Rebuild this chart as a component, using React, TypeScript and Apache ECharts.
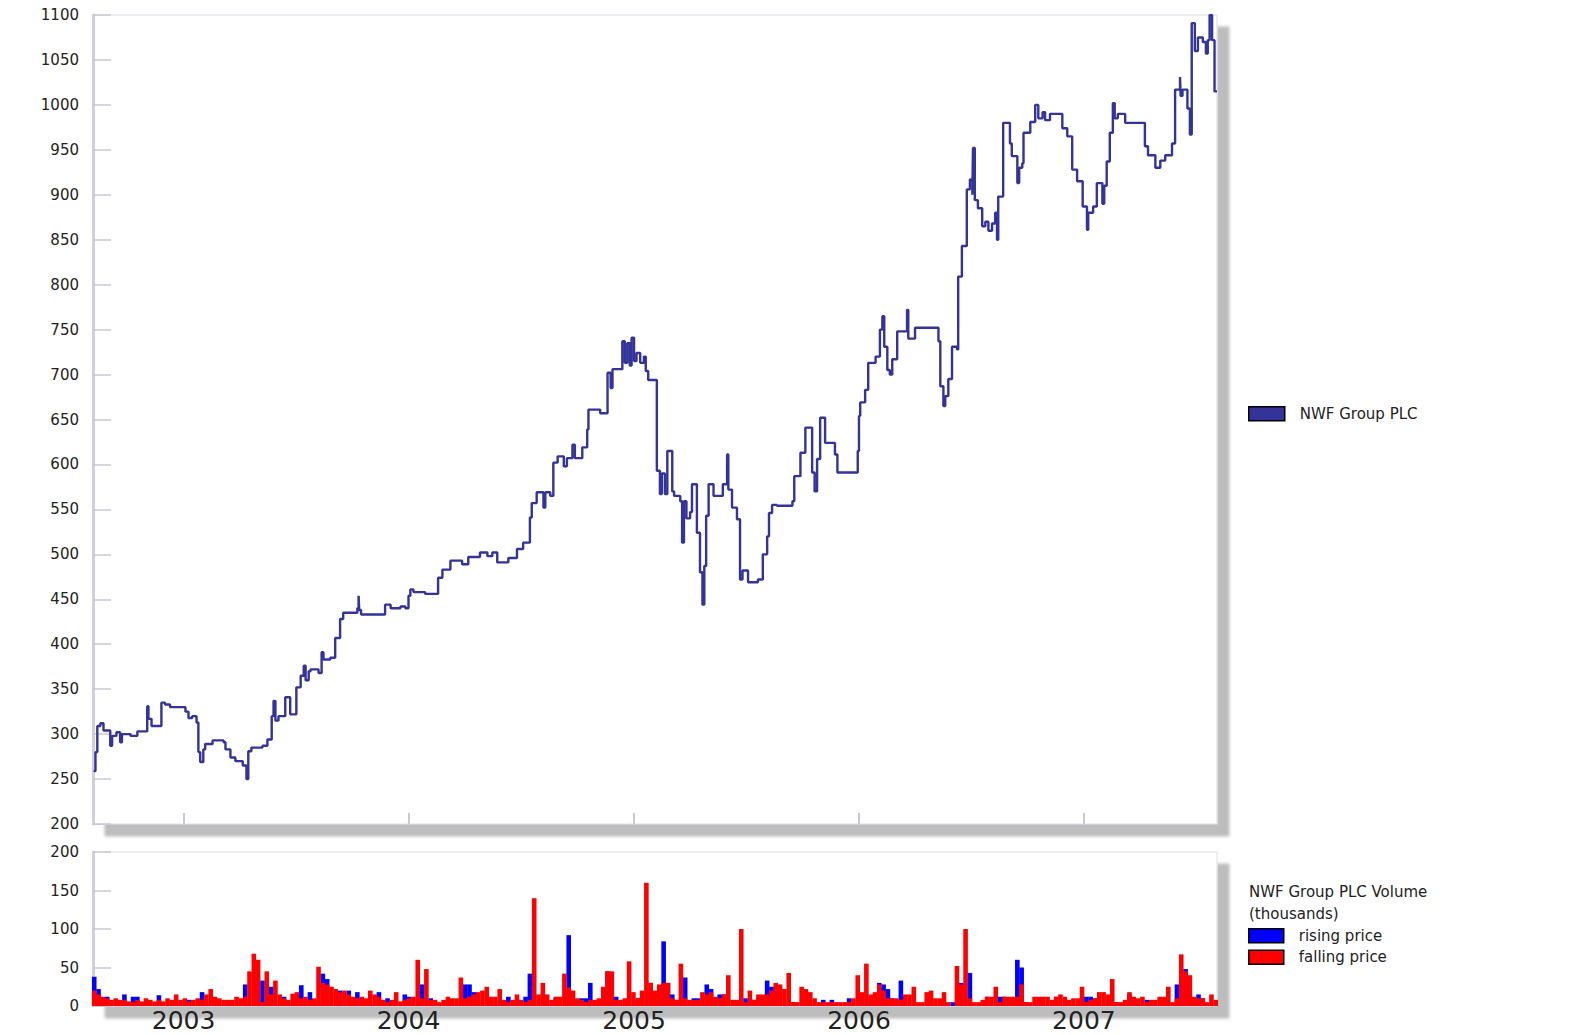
import React, { useEffect, useRef } from 'react';
import * as echarts from 'echarts';

const FONT = '"DejaVu Sans", sans-serif';

// Share price (pence)
const priceDates = [
  '2002-08-08', '2002-08-11', '2002-08-14', '2002-08-19', '2002-08-24', '2002-09-04', '2002-09-07', '2002-09-14',
  '2002-09-20', '2002-09-23', '2002-10-07', '2002-10-18', '2002-11-03', '2002-11-05', '2002-11-10', '2002-11-26',
  '2002-12-02', '2002-12-10', '2003-01-04', '2003-01-09', '2003-01-15', '2003-01-22', '2003-01-25', '2003-01-28',
  '2003-02-02', '2003-02-05', '2003-02-17', '2003-03-07', '2003-03-10', '2003-03-18', '2003-03-26', '2003-04-07',
  '2003-04-13', '2003-04-16', '2003-04-21', '2003-05-09', '2003-05-17', '2003-05-24', '2003-05-27', '2003-05-30',
  '2003-06-04', '2003-06-15', '2003-06-23', '2003-07-03', '2003-07-10', '2003-07-15', '2003-07-18', '2003-07-23',
  '2003-07-26', '2003-08-08', '2003-08-13', '2003-08-16', '2003-08-27', '2003-09-04', '2003-09-12', '2003-09-17',
  '2003-10-10', '2003-10-12', '2003-10-13', '2003-10-16', '2003-11-24', '2003-12-03', '2003-12-19', '2003-12-27',
  '2004-01-01', '2004-01-04', '2004-01-09', '2004-01-28', '2004-02-18', '2004-02-25', '2004-03-09', '2004-03-28',
  '2004-04-07', '2004-04-26', '2004-05-08', '2004-05-16', '2004-05-24', '2004-06-11', '2004-06-25', '2004-07-05',
  '2004-07-16', '2004-07-19', '2004-07-27', '2004-08-07', '2004-08-10', '2004-08-18', '2004-08-23', '2004-08-30',
  '2004-09-09', '2004-09-14', '2004-09-23', '2004-09-27', '2004-10-09', '2004-10-17', '2004-10-19', '2004-11-07',
  '2004-11-19', '2004-11-24', '2004-11-27', '2004-12-13', '2004-12-17', '2004-12-21', '2004-12-25', '2004-12-28',
  '2005-01-01', '2005-01-05', '2005-01-11', '2005-01-17', '2005-01-20', '2005-01-24', '2005-02-07', '2005-02-12',
  '2005-02-15', '2005-02-20', '2005-02-24', '2005-03-04', '2005-03-07', '2005-03-17', '2005-03-20', '2005-03-23',
  '2005-03-27', '2005-04-02', '2005-04-05', '2005-04-13', '2005-04-18', '2005-04-22', '2005-04-25', '2005-04-28',
  '2005-05-02', '2005-05-10', '2005-05-25', '2005-06-01', '2005-06-03', '2005-06-09', '2005-06-17', '2005-06-22',
  '2005-06-26', '2005-07-05', '2005-07-21', '2005-07-29', '2005-08-05', '2005-08-08', '2005-08-13', '2005-08-21',
  '2005-09-15', '2005-09-18', '2005-09-28', '2005-10-06', '2005-10-17', '2005-10-21', '2005-10-25', '2005-10-30',
  '2005-11-07', '2005-11-23', '2005-11-27', '2005-12-30', '2006-01-01', '2006-01-03', '2006-01-11', '2006-01-16',
  '2006-01-28', '2006-02-04', '2006-02-08', '2006-02-11', '2006-02-16', '2006-02-20', '2006-02-24', '2006-03-04',
  '2006-03-20', '2006-03-22', '2006-04-02', '2006-05-05', '2006-05-10', '2006-05-13', '2006-05-18', '2006-05-21',
  '2006-05-26', '2006-06-01', '2006-06-09', '2006-06-11', '2006-06-17', '2006-06-25', '2006-06-30', '2006-07-04',
  '2006-07-05', '2006-07-08', '2006-07-13', '2006-07-20', '2006-07-25', '2006-07-30', '2006-08-05', '2006-08-10',
  '2006-08-13', '2006-08-15', '2006-08-23', '2006-09-03', '2006-09-06', '2006-09-15', '2006-09-18', '2006-09-23',
  '2006-09-25', '2006-10-06', '2006-10-14', '2006-10-19', '2006-10-26', '2006-10-30', '2006-11-07', '2006-11-27',
  '2006-12-05', '2006-12-13', '2006-12-21', '2006-12-30', '2007-01-06', '2007-01-08', '2007-01-16', '2007-01-22',
  '2007-01-31', '2007-02-03', '2007-02-07', '2007-02-12', '2007-02-17', '2007-02-20', '2007-02-25', '2007-03-09',
  '2007-04-10', '2007-04-15', '2007-04-27', '2007-05-05', '2007-05-13', '2007-05-24', '2007-05-29', '2007-06-06',
  '2007-06-07', '2007-06-10', '2007-06-18', '2007-06-22', '2007-06-25', '2007-06-30', '2007-07-05', '2007-07-13',
  '2007-07-18', '2007-07-21', '2007-07-24', '2007-07-28', '2007-08-01', '2007-08-05',
];

const prices = [
  259, 280, 309, 312, 304, 287, 298, 302,
  291, 300, 298, 303, 331, 317, 309, 335,
  333, 330, 325, 318, 320, 313, 280, 269,
  283, 289, 293, 291, 283, 274, 270, 265,
  250, 281, 285, 287, 294, 320, 337, 315,
  320, 341, 322, 352, 365, 376, 360, 370,
  372, 368, 391, 383, 385, 407, 428, 435,
  440, 454, 438, 433, 444, 440, 442, 440,
  454, 461, 458, 456, 474, 483, 493, 489,
  497, 502, 498, 502, 491, 496, 506, 513,
  541, 557, 569, 552, 569, 565, 602, 609,
  598, 607, 622, 607, 619, 639, 661, 657,
  702, 685, 706, 737, 713, 735, 710, 741,
  715, 724, 713, 720, 704, 694, 593, 567,
  590, 567, 615, 570, 565, 559, 513, 559,
  540, 547, 578, 524, 480, 444, 487, 543,
  578, 565, 578, 611, 572, 552, 539, 472,
  482, 469, 472, 500, 520, 546, 555, 554,
  559, 587, 613, 641, 591, 570, 606, 652,
  624, 611, 591, 615, 654, 669, 683, 713,
  720, 750, 765, 731, 705, 700, 717, 748,
  772, 740, 752, 752, 737, 687, 665, 676,
  695, 731, 728, 809, 843, 906, 917, 900,
  952, 894, 885, 865, 870, 860, 868, 880,
  850, 898, 980, 957, 943, 913, 930, 935,
  969, 981, 1000, 985, 992, 983, 990, 974,
  965, 928, 915, 887, 861, 880, 887, 913,
  890, 910, 937, 969, 1002, 985, 990, 980,
  954, 944, 930, 938, 944, 957, 1017, 1031,
  1010, 1017, 996, 967, 1091, 1060, 1075, 1070,
  1057, 1072, 1100, 1072, 1015, 1015,
];

// Weekly volume (thousands of shares), first week ending 2002-08-09
const volumeFirstWeek = [2002, 7, 9];
const volumeRising = [
  38, 22, 10, 12, 0, 6, 0, 15, 0, 12,
  12, 0, 0, 0, 0, 14, 0, 0, 0, 0,
  0, 0, 8, 0, 0, 18, 0, 0, 0, 0,
  0, 0, 0, 0, 0, 28, 0, 0, 0, 33,
  0, 25, 0, 0, 12, 3, 0, 10, 27, 0,
  18, 8, 0, 42, 35, 0, 0, 20, 0, 20,
  0, 18, 0, 0, 0, 0, 18, 0, 10, 0,
  0, 0, 15, 12, 0, 0, 28, 0, 10, 0,
  0, 0, 0, 0, 0, 0, 28, 28, 18, 0,
  0, 0, 0, 0, 0, 0, 12, 0, 0, 0,
  12, 42, 0, 0, 0, 0, 0, 10, 0, 0,
  92, 0, 8, 10, 10, 30, 0, 0, 0, 45,
  0, 12, 0, 0, 0, 0, 10, 0, 0, 30,
  0, 0, 84, 30, 15, 8, 0, 37, 0, 10,
  10, 0, 28, 22, 0, 15, 15, 0, 0, 0,
  0, 10, 0, 8, 12, 0, 33, 25, 25, 0,
  0, 0, 5, 0, 0, 0, 0, 0, 0, 8,
  0, 8, 0, 0, 0, 10, 0, 0, 0, 0,
  10, 15, 30, 28, 22, 10, 0, 33, 0, 0,
  0, 0, 0, 0, 0, 0, 0, 0, 0, 5,
  0, 30, 0, 43, 0, 0, 5, 12, 0, 0,
  12, 12, 0, 0, 60, 50, 5, 0, 0, 0,
  0, 0, 0, 12, 0, 0, 0, 0, 0, 0,
  12, 12, 10, 0, 0, 0, 0, 5, 0, 0,
  15, 0, 0, 0, 8, 0, 0, 0, 0, 0,
  0, 28, 0, 48, 0, 0, 15, 10, 0, 0, 0,
];
const volumeFalling = [
  20, 15, 12, 10, 8, 10, 8, 8, 6, 5,
  8, 6, 10, 8, 6, 8, 6, 10, 8, 15,
  8, 10, 6, 8, 10, 8, 15, 22, 12, 10,
  8, 8, 8, 12, 10, 12, 45, 68, 60, 5,
  45, 15, 33, 15, 10, 8, 16, 18, 10, 12,
  8, 10, 51, 30, 28, 25, 22, 18, 20, 15,
  12, 10, 12, 10, 20, 15, 12, 8, 5, 8,
  18, 6, 8, 10, 12, 60, 10, 48, 8, 8,
  5, 8, 12, 10, 10, 37, 10, 12, 15, 18,
  20, 25, 12, 12, 22, 8, 5, 8, 15, 8,
  5, 8, 140, 15, 30, 15, 8, 12, 12, 42,
  24, 20, 10, 8, 5, 8, 8, 10, 25, 45,
  45, 8, 8, 10, 58, 18, 10, 20, 160, 30,
  20, 28, 30, 30, 10, 8, 55, 10, 8, 8,
  8, 18, 15, 18, 12, 10, 15, 40, 8, 8,
  100, 5, 20, 8, 15, 15, 15, 20, 30, 28,
  22, 43, 5, 5, 25, 22, 18, 10, 5, 5,
  5, 5, 5, 5, 5, 5, 10, 40, 18, 55,
  15, 18, 28, 20, 10, 10, 10, 8, 15, 15,
  25, 5, 5, 18, 20, 10, 10, 18, 5, 0,
  52, 28, 100, 10, 5, 5, 8, 12, 12, 25,
  5, 12, 12, 12, 12, 28, 5, 5, 12, 12,
  12, 12, 8, 12, 15, 12, 8, 10, 10, 25,
  5, 8, 10, 18, 18, 15, 35, 5, 5, 8,
  18, 12, 10, 12, 5, 8, 8, 12, 12, 25,
  5, 10, 67, 45, 40, 12, 10, 10, 5, 15, 8,
];

const axisStart = '2002-08-07';
const axisEnd = '2007-08-05';
const yearTicks = ['2003-01-01', '2004-01-01', '2005-01-01', '2006-01-01', '2007-01-01'];

const toTime = (s: string) => {
  const [y, m, d] = s.split('-').map(Number);
  return new Date(y, m - 1, d).getTime();
};

export default function App() {
  const ref = useRef<HTMLDivElement>(null);

  useEffect(() => {
    if (!ref.current) return;
    const chart = echarts.init(ref.current, undefined, { renderer: 'svg' });

    const weekTimes = volumeFalling.map((_, i) =>
      new Date(volumeFirstWeek[0], volumeFirstWeek[1], volumeFirstWeek[2] + 7 * i).getTime()
    );
    const tickTimes = yearTicks.map(toTime);
    const minT = toTime(axisStart);
    const maxT = toTime(axisEnd);

    const gridCommon = {
      left: 93,
      width: 1124,
      show: true,
      backgroundColor: '#ffffff',
      borderColor: '#dcdce6',
      borderWidth: 1,
      shadowColor: 'rgba(0,0,0,0.26)',
      shadowBlur: 3,
      shadowOffsetX: 12,
      shadowOffsetY: 12,
    };

    const yLabel = {
      fontSize: 15,
      color: '#222',
      fontFamily: FONT,
      margin: 14,
      formatter: (v: number) => String(v),
    };
    const yLine = { show: true, lineStyle: { color: '#d0d0dc', width: 3 } };
    const yTick = { show: true, inside: true, length: 18, lineStyle: { color: '#c8c8d6', width: 1.5 } };

    const option: any = {
      animation: false,
      backgroundColor: '#ffffff',
      textStyle: { fontFamily: FONT },
      title: {
        text: 'NWF Group PLC Volume\n(thousands)',
        left: 1249,
        top: 881,
        padding: 0,
        textStyle: { fontSize: 15, fontWeight: 'normal', color: '#222', lineHeight: 22, fontFamily: FONT },
      },
      legend: [
        {
          data: ['NWF Group PLC'],
          left: 1248,
          top: 406,
          padding: 0,
          itemWidth: 36,
          itemHeight: 14,
          icon: 'rect',
          selectedMode: false,
          itemStyle: { color: '#333399', borderColor: '#000', borderWidth: 1.5 },
          textStyle: { fontSize: 15, color: '#222', fontFamily: FONT, padding: [0, 0, 0, 10] },
        },
        {
          data: ['rising price', 'falling price'],
          orient: 'vertical',
          left: 1248,
          top: 928,
          padding: 0,
          itemGap: 6,
          itemWidth: 35,
          itemHeight: 14,
          icon: 'rect',
          selectedMode: false,
          itemStyle: { borderColor: '#000', borderWidth: 1.5 },
          textStyle: { fontSize: 15, color: '#222', fontFamily: FONT, padding: [0, 0, 0, 10] },
        },
      ],
      grid: [
        { ...gridCommon, top: 15, height: 809 },
        { ...gridCommon, top: 852, height: 154 },
      ],
      xAxis: [
        {
          type: 'value',
          gridIndex: 0,
          min: minT,
          max: maxT,
          axisLine: { show: true, lineStyle: { color: '#d0d0dc', width: 1 } },
          axisTick: { show: true, inside: true, length: 11, customValues: tickTimes, lineStyle: { color: '#c8c8d6', width: 2 } },
          axisLabel: { show: false },
          splitLine: { show: false },
        },
        {
          type: 'value',
          gridIndex: 1,
          min: minT,
          max: maxT,
          axisLine: { show: true, lineStyle: { color: '#d0d0dc', width: 1 } },
          axisTick: { show: false },
          axisLabel: {
            show: true,
            customValues: tickTimes,
            formatter: (v: number) => String(new Date(v).getFullYear()),
            fontSize: 25,
            lineHeight: 25,
            color: '#222',
            fontFamily: FONT,
            margin: 2,
          },
          splitLine: { show: false },
        },
      ],
      yAxis: [
        {
          type: 'value',
          gridIndex: 0,
          min: 200,
          max: 1100,
          interval: 50,
          axisLine: yLine,
          axisTick: yTick,
          axisLabel: yLabel,
          splitLine: { show: false },
        },
        {
          type: 'value',
          gridIndex: 1,
          min: 0,
          max: 200,
          interval: 50,
          axisLine: yLine,
          axisTick: yTick,
          axisLabel: yLabel,
          splitLine: { show: false },
        },
      ],
      series: [
        {
          name: 'NWF Group PLC',
          type: 'line',
          xAxisIndex: 0,
          yAxisIndex: 0,
          step: 'end',
          showSymbol: false,
          symbol: 'none',
          itemStyle: { color: '#333399' },
          lineStyle: { color: '#333399', width: 2.4 },
          data: priceDates.map((d, i) => [toTime(d), prices[i]]),
        },
        {
          name: 'rising price',
          type: 'bar',
          xAxisIndex: 1,
          yAxisIndex: 1,
          barWidth: 4.6,
          barGap: '-100%',
          itemStyle: { color: '#0000ff' },
          data: weekTimes.map((t, i) => [t, volumeRising[i]]),
        },
        {
          name: 'falling price',
          type: 'bar',
          xAxisIndex: 1,
          yAxisIndex: 1,
          barWidth: 4.6,
          barGap: '-100%',
          itemStyle: { color: '#ff0000' },
          data: weekTimes.map((t, i) => [t, volumeFalling[i]]),
        },
      ],
    };

    chart.setOption(option);
    return () => chart.dispose();
  }, []);

  return (
    <div
      ref={ref}
      style={{ position: 'fixed', left: 0, top: 0, width: 1576, height: 1035, background: '#fff' }}
    />
  );
}
